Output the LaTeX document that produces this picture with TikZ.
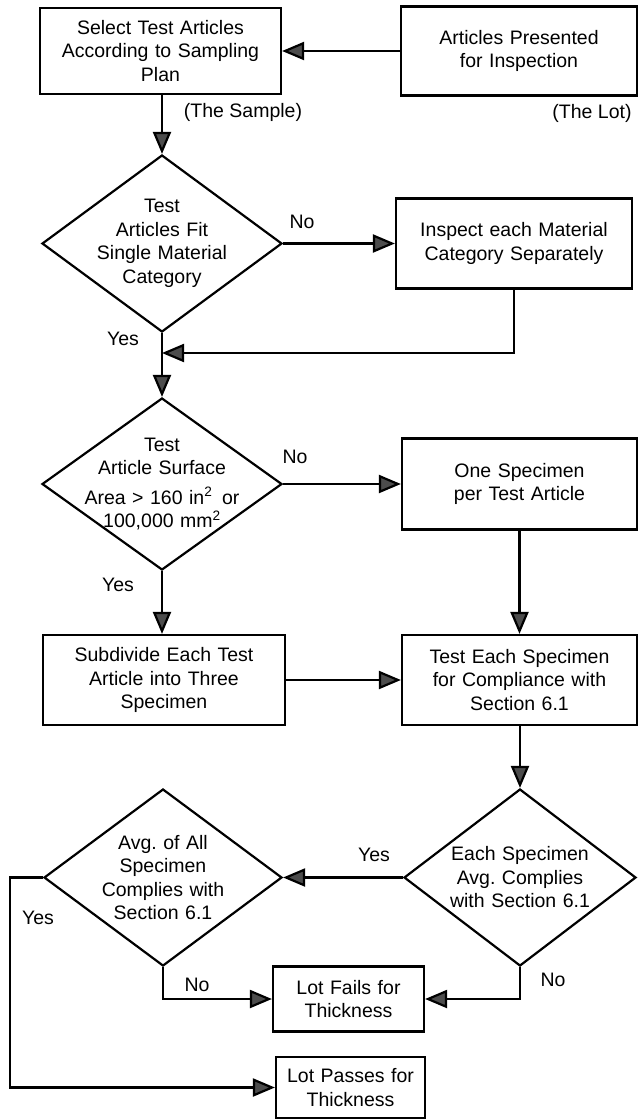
\documentclass[tikz,border=0pt]{standalone}
\usepackage{fontspec}
\setmainfont{Liberation Sans}
\usetikzlibrary{shapes.geometric,arrows.meta}
\frenchspacing
\begin{document}
\begin{tikzpicture}[x=1pt,y=-1pt,
  every node/.style={font=\fontsize{19.5}{23.5}\selectfont},
  procbox/.style={draw, line width=2.2pt, rectangle, align=center, inner sep=0pt},
  decision/.style={draw, line width=2.2pt, diamond, align=center, inner sep=-30pt,
    text width=170pt, minimum width=240pt, minimum height=177pt},
  lbl/.style={inner sep=0pt},
  flow/.style={line width=2.2pt, -{Triangle[length=22pt,width=18pt,fill=black!70]}},
  plain/.style={line width=2.2pt}]
\useasboundingbox (0,0) rectangle (639,1120);

% nodes
\node[procbox, minimum width=241pt, minimum height=86pt, text width=231pt] (select) at (160.5,51)
  {Select Test Articles\\According to Sampling\\Plan};
\node[procbox, minimum width=236pt, minimum height=89pt, text width=226pt] (lot) at (519,51)
  {Articles Presented\\for Inspection};
\node[lbl] (samplelbl) at (243,112) {(The Sample)};
\node[lbl] (lotlbl) at (592,113) {(The Lot)};

\node[decision] (fit) at (162,243.5) {Test\\Articles Fit\\Single Material\\Category};
\node[procbox, minimum width=236pt, minimum height=90pt, text width=226pt] (inspect) at (514,243.5)
  {Inspect each Material\\Category Separately};
\node[lbl] (no1) at (302,222) {No};
\node[lbl] (yes1) at (123,339) {Yes};
\coordinate (merge) at (162,353);

\node[decision, minimum height=172pt] (area) at (162,484)
  {Test\\Article Surface\\[6pt]Area > 160 in\textsuperscript{2}\ \,or\\100,000 mm\textsuperscript{2}};
\node[lbl] (no2) at (295,457) {No};
\node[procbox, minimum width=235pt, minimum height=91pt, text width=225pt] (onespec) at (519.5,484)
  {One Specimen\\per Test Article};
\node[lbl] (yes2) at (118,585) {Yes};

\node[procbox, minimum width=242pt, minimum height=90pt, text width=232pt] (subdiv) at (164,680)
  {Subdivide Each Test\\Article into Three\\Specimen};
\node[procbox, minimum width=235pt, minimum height=90pt, text width=225pt] (testeach) at (519.5,680)
  {Test Each Specimen\\for Compliance with\\Section 6.1};

\node[decision, minimum width=232pt] (each) at (520,877.5)
  {Each Specimen\\Avg. Complies\\with Section 6.1};
\node[decision, minimum width=238pt] (avg) at (163,877.5)
  {Avg. of All\\Specimen\\Complies with\\Section 6.1};
\node[lbl] (yes3) at (374,855) {Yes};
\node[lbl] (yes4) at (38,918) {Yes};
\node[lbl] (no3) at (197,985) {No};
\node[lbl] (no4) at (553,980) {No};

\node[procbox, minimum width=151pt, minimum height=65pt, text width=141pt] (fails) at (348.5,999)
  {Lot Fails for\\Thickness};
\node[procbox, minimum width=149pt, minimum height=61pt, text width=139pt] (passes) at (350.5,1087.5)
  {Lot Passes for\\Thickness};
\coordinate (leftrail) at (10,1087.5);

% connectors
\draw[flow] (lot.west) -- (select.east);
\draw[flow] (select.south -| fit.north) -- (fit.north);
\draw[flow] (fit.east) -- (inspect.west);
\draw[flow] (fit.south) -- (area.north);
\draw[flow] (inspect.south) |- (merge);
\draw[flow] (area.east) -- (area.east -| onespec.west);
\draw[flow] (area.south) -- (area.south |- subdiv.north);
\draw[flow] (onespec.south) -- (testeach.north);
\draw[flow] (subdiv.east) -- (testeach.west);
\draw[flow] (testeach.south -| each.north) -- (each.north);
\draw[flow] (each.west) -- (avg.east);
\draw[flow] (avg.west) -| (leftrail) -- (passes.west);
\draw[flow] (avg.south) |- (fails.west);
\draw[flow] (each.south) |- (fails.east);
\end{tikzpicture}
\end{document}
